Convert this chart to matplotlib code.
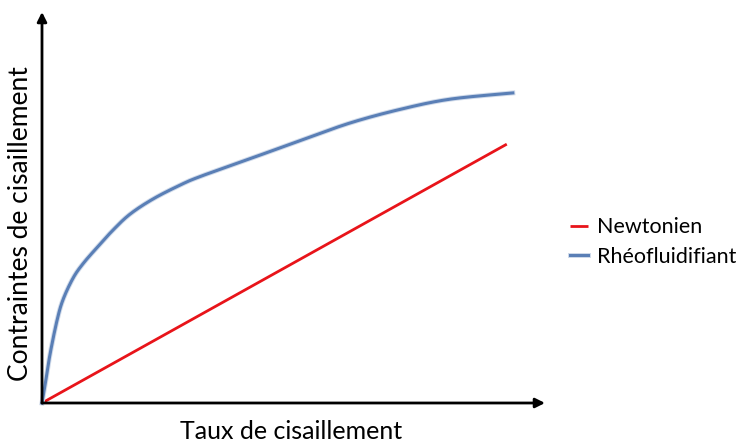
import matplotlib.pyplot as plt
import matplotlib.patheffects as pe
import numpy as np

plt.rcParams['font.family'] = ['Lato', 'DejaVu Sans']

# courbe rhéofluidifiante
taux_rheo = [0, 0.06, 0.16, 0.30, 0.42, 0.62, 0.82, 1.09, 1.41, 1.75, 2.21,
             2.74, 3.14, 4.14, 5.13, 6.12, 7.12, 8.11, 9.36]
contr_rheo = [0, 0.45, 1.25, 2.12, 2.65, 3.20, 3.57, 3.97, 4.42, 4.83, 5.22,
              5.57, 5.79, 6.25, 6.71, 7.16, 7.51, 7.77, 7.93]
# droite newtonienne
taux_newt = [0, 9.24]
contr_newt = [0, 6.62]

labels = ['Newtonien', 'Rhéofluidifiant']
xlabel = 'Taux de cisaillement'
ylabel = 'Contraintes de cisaillement'


def smooth(x, y):
    # interpolation Catmull-Rom pour lisser la courbe
    x = np.asarray(x); y = np.asarray(y)
    px = np.concatenate([[x[0]], x, [x[-1]]])
    py = np.concatenate([[y[0]], y, [y[-1]]])
    xs, ys = [], []
    for i in range(1, len(px) - 2):
        t = np.linspace(0, 1, 30, endpoint=False)
        for arr, out in ((px, xs), (py, ys)):
            p0, p1, p2, p3 = arr[i - 1], arr[i], arr[i + 1], arr[i + 2]
            out.extend(0.5 * (2 * p1 + (-p0 + p2) * t
                              + (2 * p0 - 5 * p1 + 4 * p2 - p3) * t ** 2
                              + (-p0 + 3 * p1 - 3 * p2 + p3) * t ** 3))
    xs.append(x[-1]); ys.append(y[-1])
    return xs, ys


fig = plt.figure(figsize=(7.37, 4.44), dpi=100)
ax = fig.add_axes([42 / 737, 41 / 444, 503 / 737, 391 / 444])
ax.set_xlim(0, 10)
ax.set_ylim(0, 10)
for s in ax.spines.values():
    s.set_visible(False)
ax.set_xticks([])
ax.set_yticks([])
ax.patch.set_alpha(0)

# axes avec flèches
ax.annotate('', xy=(1.0, 0), xytext=(0, 0), xycoords='axes fraction',
            arrowprops=dict(arrowstyle='-|>', color='black', lw=2,
                            mutation_scale=14, shrinkA=0, shrinkB=0))
ax.annotate('', xy=(0, 1.0), xytext=(0, 0), xycoords='axes fraction',
            arrowprops=dict(arrowstyle='-|>', color='black', lw=2,
                            mutation_scale=14, shrinkA=0, shrinkB=0))

ax.plot(taux_newt, contr_newt, color='#E8141A', lw=2, label=labels[0],
        solid_capstyle='butt', clip_on=False)
xs, ys = smooth(taux_rheo, contr_rheo)
ax.plot(xs, ys, color='#5A7FB6', lw=2.2, label=labels[1], clip_on=False,
        path_effects=[pe.Stroke(linewidth=3.6, foreground='#D2DCEB'), pe.Normal()])

ax.legend(loc='center left', bbox_to_anchor=(570 / 737, 1 - 242 / 444),
          bbox_transform=fig.transFigure, frameon=False, fontsize=15.5,
          handlelength=0.85, handletextpad=0.4, labelspacing=0.45,
          borderaxespad=0, borderpad=0)

fig.text(291 / 737, 1 - 431 / 444, xlabel, ha='center', va='center', fontsize=18)
fig.text(21 / 737, 1 - 224 / 444, ylabel, ha='center', va='center', fontsize=19,
         rotation=90)

fig.savefig('out.png', dpi=100)
